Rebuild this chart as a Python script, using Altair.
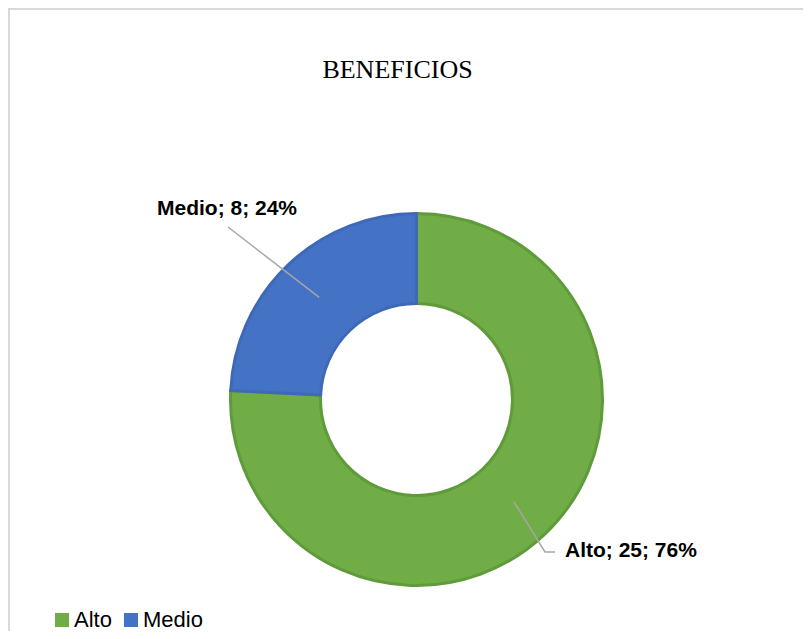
import math
import altair as alt
import pandas as pd

# ---- data ----
categories = ["Alto", "Medio"]
values = [25, 8]
title_text = "BENEFICIOS"

# ---- style / layout ----
colors = ["#70AD47", "#4472C4"]
edge_colors = ["#5F9A3B", "#3F69B6"]
W, H = 795, 623
CX, CY = 408.5, 391.5
R_OUT, R_IN = 186, 96
R_MID = (R_OUT + R_IN) / 2

# label anchors (left x, baseline y) and leader waypoints after the ring start
label_layout = {
    "Alto": {"x": 557, "y": 549, "path": [(537, 544), (547, 544)]},
    "Medio": {"x": 149, "y": 207, "path": [(220, 219)]},
}

total = sum(values)
pcts = [round(100 * v / total) for v in values]
labels = [f"{c}; {v}; {p}%" for c, v, p in zip(categories, values, pcts)]

df = pd.DataFrame({"cat": categories, "value": values, "label": labels})

# leader line points: start at middle of the ring at each slice's mid angle
rows = []
cum = 0
for c, v in zip(categories, values):
    mid = 2 * math.pi * (cum + v / 2) / total
    cum += v
    sx = CX + R_MID * math.sin(mid)
    sy = CY - R_MID * math.cos(mid)
    rows.append({"cat": c, "ord": 0, "px": sx, "py": sy})
    for i, (px, py) in enumerate(label_layout[c]["path"]):
        rows.append({"cat": c, "ord": i + 1, "px": px, "py": py})
pts = pd.DataFrame(rows)

lab_df = pd.DataFrame({
    "cat": categories,
    "label": labels,
    "lx": [label_layout[c]["x"] for c in categories],
    "ly": [label_layout[c]["y"] for c in categories],
})

xs = alt.Scale(domain=[0, W], range=[0, W], nice=False, zero=False)
ys = alt.Scale(domain=[0, H], range=[0, H], nice=False, zero=False)

arc = alt.Chart(df).mark_arc(outerRadius=R_OUT, innerRadius=R_IN, strokeWidth=3).encode(
    theta=alt.Theta("value:Q", stack=True),
    color=alt.Color(
        "cat:N",
        scale=alt.Scale(domain=categories, range=colors),
        legend=alt.Legend(
            orient="none", legendX=43, legendY=601, direction="horizontal",
            title=None, symbolType="square", symbolSize=196, symbolStrokeWidth=0,
            labelFont="Liberation Sans", labelFontSize=22, labelColor="black",
            labelOffset=1, columnPadding=8, padding=0,
        ),
    ),
    stroke=alt.when(alt.datum.cat == "Alto").then(alt.value(edge_colors[0])).otherwise(alt.value(edge_colors[1])),
    order=alt.Order("cat:N"),
    x=alt.value(CX),
    y=alt.value(CY),
)

lines = alt.Chart(pts).mark_line(color="#A6A6A6", strokeWidth=1.5).encode(
    x=alt.X("px:Q", scale=xs, axis=None),
    y=alt.Y("py:Q", scale=ys, axis=None),
    detail="cat:N",
    order="ord:Q",
)

texts = alt.Chart(lab_df).mark_text(
    align="left", baseline="alphabetic", font="Liberation Sans",
    fontSize=21, fontWeight="bold", color="black",
).encode(
    x=alt.X("lx:Q", scale=xs, axis=None),
    y=alt.Y("ly:Q", scale=ys, axis=None),
    text="label:N",
)

title = alt.Chart(pd.DataFrame({"t": [title_text]})).mark_text(
    font="Liberation Serif", fontSize=26, align="center", baseline="alphabetic", color="black",
).encode(x=alt.value(389.5), y=alt.value(70), text="t:N")

one = pd.DataFrame({"a": [0]})
border_left = alt.Chart(one).mark_rule(color="#D9D9D9", strokeWidth=2).encode(
    x=alt.value(1), y=alt.value(0), y2=alt.value(H))
border_top = alt.Chart(one).mark_rule(color="#D9D9D9", strokeWidth=2).encode(
    y=alt.value(1), x=alt.value(0), x2=alt.value(W))

chart = alt.layer(border_left, border_top, arc, lines, texts, title).properties(
    width=W, height=H, autosize="none", padding=0, background="white"
).configure_view(stroke=None)

chart.save("out.html", embed_options={"renderer": "svg", "actions": False})
